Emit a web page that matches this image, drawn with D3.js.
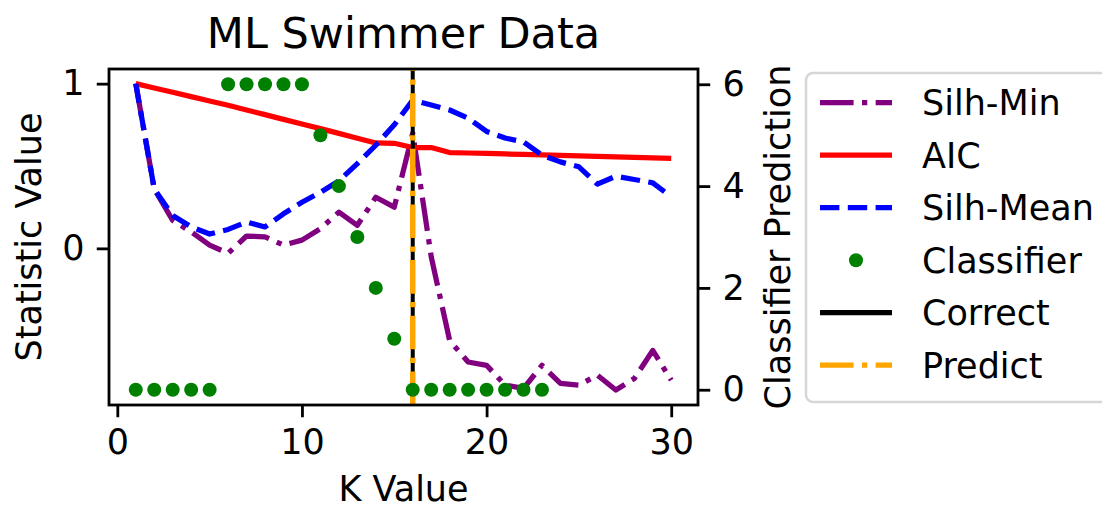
<!DOCTYPE html>
<html>
<head>
<meta charset="utf-8">
<script src="https://cdn.jsdelivr.net/npm/d3@7"></script>
<style>
  body { margin: 0; background: #fff; }
  svg { font-family: "DejaVu Sans", sans-serif; }
</style>
</head>
<body>
<svg width="1102" height="508"></svg>
<script>
// K values and the series
var kValues = d3.range(1, 31);
var silhMin = [1.0, 0.36, 0.17, 0.10, 0.02, -0.03, 0.075, 0.07, 0.02, 0.05,
               0.12, 0.22, 0.14, 0.31, 0.25, 0.70, -0.05, -0.56, -0.69, -0.71,
               -0.83, -0.85, -0.71, -0.82, -0.83, -0.77, -0.86, -0.79, -0.62, -0.80];
var aic = [1.0, 0.974, 0.948, 0.921, 0.895, 0.869, 0.840, 0.812, 0.783, 0.755,
           0.727, 0.698, 0.669, 0.640, 0.638, 0.612, 0.612, 0.582, 0.579, 0.576,
           0.573, 0.570, 0.567, 0.564, 0.561, 0.558, 0.555, 0.553, 0.550, 0.547];
var silhMean = [1.0, 0.36, 0.20, 0.13, 0.087, 0.115, 0.16, 0.13, 0.21, 0.28,
                0.34, 0.41, 0.515, 0.626, 0.75, 0.90, 0.87, 0.84, 0.79, 0.71,
                0.67, 0.646, 0.566, 0.525, 0.495, 0.39, 0.438, 0.418, 0.398, 0.313];
var classifier = [0, 0, 0, 0, 0, 6, 6, 6, 6, 6, 5, 4, 3, 2, 1, 0, 0, 0, 0, 0, 0, 0, 0];
var correctK = 16;
var predictK = 16;
var xTicks = [0, 10, 20, 30];
var leftTicks = [0, 1];
var rightTicks = [0, 2, 4, 6];

var margin = {left: 109, right: 698, top: 69, bottom: 405};
var fs = 35;

var x = d3.scaleLinear().domain([-0.45, 31.45]).range([margin.left, margin.right]);
var yL = d3.scaleLinear().domain([-0.951, 1.089]).range([margin.bottom, margin.top]);
var yR = d3.scaleLinear().domain([-0.3, 6.3]).range([margin.bottom, margin.top]);

var svg = d3.select('svg');

function pts(vals) {
  return vals.map(function (v, i) { return [kValues[i], v]; });
}

var lineL = d3.line()
  .x(function (d) { return x(d[0]); })
  .y(function (d) { return yL(d[1]); });

var series = [
  {name: 'Silh-Min', data: silhMin, color: 'purple', dash: '33.6,8.4,5.25,8.4'},
  {name: 'AIC', data: aic, color: 'red', dash: null},
  {name: 'Silh-Mean', data: silhMean, color: 'blue', dash: '19.4,8.4'}
];

var plot = svg.append('g');
plot.append('defs').append('clipPath').attr('id', 'clip')
  .append('rect')
  .attr('x', margin.left).attr('y', margin.top)
  .attr('width', margin.right - margin.left).attr('height', margin.bottom - margin.top);

var inner = plot.append('g').attr('clip-path', 'url(#clip)');

series.forEach(function (s) {
  inner.append('path')
    .attr('d', lineL(pts(s.data)))
    .attr('fill', 'none')
    .attr('stroke', s.color)
    .attr('stroke-width', 5.25)
    .attr('stroke-linejoin', 'round')
    .attr('stroke-dasharray', s.dash);
});

// vertical markers: correct (solid black) and predicted (orange dash-dot), drawn bottom-up
inner.append('line')
  .attr('x1', x(correctK)).attr('x2', x(correctK))
  .attr('y1', margin.bottom).attr('y2', margin.top)
  .attr('stroke', 'black').attr('stroke-width', 4);
inner.append('line')
  .attr('x1', x(predictK)).attr('x2', x(predictK))
  .attr('y1', margin.bottom).attr('y2', margin.top)
  .attr('stroke', 'orange').attr('stroke-width', 5.5)
  .attr('stroke-dasharray', '33.6,8.4,5.25,8.4');

inner.selectAll('circle.cls')
  .data(classifier)
  .enter()
  .append('circle')
  .attr('class', 'cls')
  .attr('cx', function (d, i) { return x(kValues[i]); })
  .attr('cy', function (d) { return yR(d); })
  .attr('r', 7)
  .attr('fill', 'green');

// frame
plot.append('rect')
  .attr('x', margin.left).attr('y', margin.top)
  .attr('width', margin.right - margin.left).attr('height', margin.bottom - margin.top)
  .attr('fill', 'none').attr('stroke', 'black').attr('stroke-width', 2.8);

function styleAxis(g) {
  g.select('.domain').remove();
  g.selectAll('line').attr('stroke', 'black').attr('stroke-width', 2.8);
  g.selectAll('text').attr('font-size', fs).attr('fill', 'black')
    .attr('font-family', '"DejaVu Sans", sans-serif');
}

svg.append('g')
  .attr('transform', 'translate(0,' + margin.bottom + ')')
  .call(d3.axisBottom(x).tickValues(xTicks).tickFormat(d3.format('d')).tickSize(12.25).tickPadding(12.25))
  .call(styleAxis);

svg.append('g')
  .attr('transform', 'translate(' + margin.left + ',0)')
  .call(d3.axisLeft(yL).tickValues(leftTicks).tickFormat(d3.format('d')).tickSize(12.25).tickPadding(12.25))
  .call(styleAxis);

svg.append('g')
  .attr('transform', 'translate(' + margin.right + ',0)')
  .call(d3.axisRight(yR).tickValues(rightTicks).tickFormat(d3.format('d')).tickSize(12.25).tickPadding(12.25))
  .call(styleAxis);

// labels
svg.append('text')
  .attr('x', (margin.left + margin.right) / 2)
  .attr('y', 48)
  .attr('text-anchor', 'middle')
  .attr('font-size', 43)
  .text('ML Swimmer Data');

svg.append('text')
  .attr('x', (margin.left + margin.right) / 2)
  .attr('y', 501)
  .attr('text-anchor', 'middle')
  .attr('font-size', fs)
  .text('K Value');

svg.append('text')
  .attr('transform', 'translate(41,' + (margin.top + margin.bottom) / 2 + ') rotate(-90)')
  .attr('text-anchor', 'middle')
  .attr('font-size', fs)
  .text('Statistic Value');

svg.append('text')
  .attr('transform', 'translate(790,' + (margin.top + margin.bottom) / 2 + ') rotate(-90)')
  .attr('text-anchor', 'middle')
  .attr('font-size', fs)
  .text('Classifier Prediction');

// legend
var legendItems = [
  {name: 'Silh-Min', color: 'purple', dash: '33.6,8.4,5.25,8.4', type: 'line', w: 5.25},
  {name: 'AIC', color: 'red', dash: null, type: 'line', w: 5.25},
  {name: 'Silh-Mean', color: 'blue', dash: '19.4,8.4', type: 'line', w: 5.25},
  {name: 'Classifier', color: 'green', type: 'dot'},
  {name: 'Correct', color: 'black', dash: null, type: 'line', w: 5.25},
  {name: 'Predict', color: 'orange', dash: '33.6,8.4,5.25,8.4', type: 'line', w: 5.25}
];

var legend = svg.append('g');
legend.append('rect')
  .attr('x', 806).attr('y', 73)
  .attr('width', 400).attr('height', 329)
  .attr('rx', 7)
  .attr('fill', 'white')
  .attr('stroke', '#d6d6d6')
  .attr('stroke-width', 2.5);

var rows = legend.selectAll('g.row')
  .data(legendItems)
  .enter()
  .append('g')
  .attr('class', 'row')
  .attr('transform', function (d, i) { return 'translate(0,' + (102.7 + i * 52.5) + ')'; });

rows.filter(function (d) { return d.type === 'line'; })
  .append('line')
  .attr('x1', 820).attr('x2', 892)
  .attr('y1', 0).attr('y2', 0)
  .attr('stroke', function (d) { return d.color; })
  .attr('stroke-width', function (d) { return d.w; })
  .attr('stroke-dasharray', function (d) { return d.dash; });

rows.filter(function (d) { return d.type === 'dot'; })
  .append('circle')
  .attr('cx', 856).attr('cy', 0).attr('r', 7)
  .attr('fill', function (d) { return d.color; });

rows.append('text')
  .attr('x', 922)
  .attr('y', 12.5)
  .attr('font-size', fs)
  .text(function (d) { return d.name; });
</script>
</body>
</html>
